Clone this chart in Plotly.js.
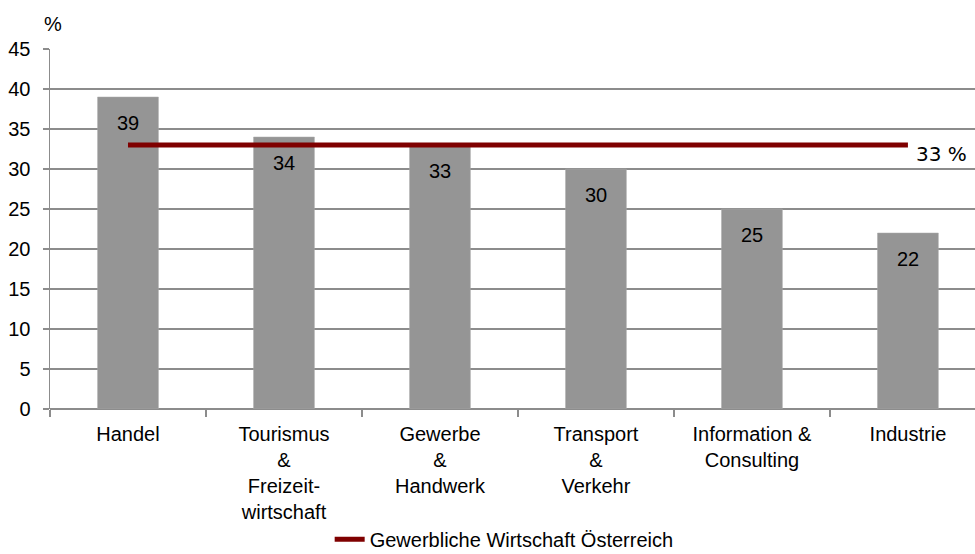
<!DOCTYPE html>
<html>
<head>
<meta charset="utf-8">
<script src="https://cdn.plot.ly/plotly-3.0.1.min.js"></script>
<style>html,body{margin:0;padding:0;background:#fff;}#chart{width:975px;height:554px;}</style>
</head>
<body>
<div id="chart"></div>
<script>
const categories = ["Handel", "Tourismus<br>&<br>Freizeit-<br>wirtschaft", "Gewerbe<br>&<br>Handwerk", "Transport<br>&<br>Verkehr", "Information &<br>Consulting", "Industrie"];
const shares = [39, 34, 33, 30, 25, 22];
const austriaAvg = [33, 33, 33, 33, 33, 33];
const avgLabel = "33 %";
const seriesName = "Gewerbliche Wirtschaft Österreich";
const yTicks = [0, 5, 10, 15, 20, 25, 30, 35, 40, 45];

const fontMain = "Liberation Sans, Arial, sans-serif";

const traces = [
  {
    type: "bar", x: categories, y: shares, width: 0.39,
    marker: {color: "#959595", line: {color: "#a8a8a8", width: 0.5}},
    showlegend: false, hoverinfo: "skip"
  },
  {
    type: "scatter", mode: "lines", x: categories, y: austriaAvg, name: seriesName,
    line: {color: "#7f0000", width: 5}, showlegend: true
  }
];

const annotations = shares.map((v, i) => ({
  x: categories[i], y: v, xref: "x", yref: "y", text: String(v), showarrow: false,
  yanchor: "middle", yshift: -26, font: {family: fontMain, size: 20, color: "#000"}
}));
annotations.push({
  x: categories[categories.length - 1], y: austriaAvg[austriaAvg.length - 1], xref: "x", yref: "y",
  text: avgLabel, showarrow: false, xanchor: "left", yanchor: "middle", xshift: 6, yshift: -9,
  font: {family: "DejaVu Sans, sans-serif", size: 20, color: "#000"}
});
annotations.push({
  xref: "paper", yref: "paper", x: 0.003, y: 1.0, xanchor: "center", yanchor: "middle",
  yshift: 25, text: "%", showarrow: false,
  font: {family: fontMain, size: 20, color: "#000"}
});

const layout = {
  width: 975, height: 554,
  margin: {l: 50, r: 0, t: 49, b: 145, autoexpand: false},
  paper_bgcolor: "#fff", plot_bgcolor: "#fff",
  font: {family: fontMain, size: 20, color: "#000"},
  xaxis: {
    type: "category", range: [-0.5, 5.43], tickson: "boundaries", automargin: false,
    ticks: "outside", ticklen: 7, tickcolor: "#8c8c8c", tickwidth: 1.5,
    showline: false, showgrid: false, zeroline: false,
    ticklabelstandoff: 11,
    tickfont: {family: fontMain, size: 20, color: "#000"}, fixedrange: true
  },
  yaxis: {
    range: [0, 45], tickvals: yTicks, ticktext: yTicks.map(String), automargin: false,
    ticks: "outside", ticklen: 6, tickcolor: "#8c8c8c", tickwidth: 1.5,
    showline: true, linecolor: "#8c8c8c", linewidth: 1.5,
    showgrid: true, gridcolor: "#8c8c8c", gridwidth: 1.5,
    zeroline: true, zerolinecolor: "#8c8c8c", zerolinewidth: 1.5,
    ticklabelstandoff: 8,
    tickfont: {family: fontMain, size: 20, color: "#000"}, fixedrange: true
  },
  showlegend: true,
  legend: {
    orientation: "h", x: 0.491, xanchor: "center", y: -0.362, yanchor: "middle",
    font: {family: fontMain, size: 20, color: "#000"}, bgcolor: "rgba(0,0,0,0)"
  },
  annotations: annotations,
  bargap: 0.6
};

Plotly.newPlot("chart", traces, layout, {displayModeBar: false, staticPlot: true});
</script>
</body>
</html>
